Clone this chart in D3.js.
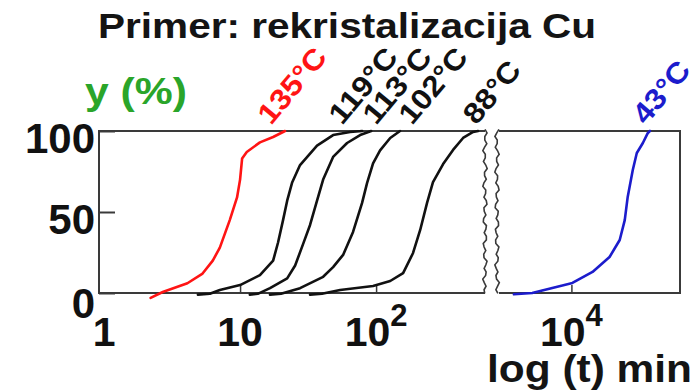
<!DOCTYPE html>
<html>
<head>
<meta charset="utf-8">
<script src="https://cdn.jsdelivr.net/npm/d3@7"></script>
<style>
  html, body { margin: 0; padding: 0; background: #fff; }
  svg { display: block; }
  text { font-family: "Liberation Sans", Arial, Helvetica, sans-serif; font-weight: bold; }
</style>
</head>
<body>
<script>
// Recrystallisation of Cu: recrystallised fraction y (%) versus annealing time (min)
const titleText = "Primer: rekristalizacija Cu";
const yTitle = "y (%)";
const xTitle = "log (t) min";

const temps = ["135°C", "119°C", "113°C", "102°C", "88°C", "43°C"];
const colors = ["#ff1414", "#111111", "#111111", "#111111", "#111111", "#1c1ccc"];

// time (min) and fraction (%) for each annealing temperature
const t135 = [2.2, 2.7, 4.1, 5.3, 6.3, 7.1, 8.4, 9.5, 10.0, 10.35, 11.2, 14.0, 17.5, 21.4];
const y135 = [-3, 0.6, 6, 12, 20, 28, 45, 59, 70, 83, 87, 93, 96.3, 100];

const t119 = [4.9, 6.0, 7.1, 10, 14, 17.5, 19, 20.7, 22.2, 24.1, 27.6, 36.8, 48.3, 64.4, 79];
const y119 = [-1, -0.5, 1.9, 4.9, 11, 20, 31, 45, 57, 68, 79, 91, 97.5, 99.4, 100];

const t113 = [11.8, 13.5, 16.6, 22.2, 25.4, 29.0, 32.7, 36.8, 40.8, 48.3, 61.2, 76.3, 92];
const y113 = [-1, -0.5, 3, 9, 17, 30, 42, 57, 70, 84, 92.6, 97.5, 100];

const t102 = [16.6, 20, 27.6, 40.8, 48.3, 57.2, 67.7, 78.9, 85.9, 95, 107, 127, 143, 150];
const y102 = [-1, -0.5, 3, 10, 16, 23.5, 37.7, 55.6, 68, 80, 88, 95.7, 98.8, 100];

const t88 = [32.7, 40, 54.4, 95, 127, 158, 187, 211, 237, 262, 311, 368, 436, 517, 562];
const y88 = [-1, -0.5, 1.9, 4.3, 7.4, 12.3, 24.7, 38.9, 55.6, 68.5, 79.6, 88.3, 95.7, 99.4, 100];

const t43 = [3800, 5170, 7250, 10170, 14270, 19000, 22550, 24550, 25800, 28100, 30070, 33300, 36230, 37500];
const y43 = [-0.8, 0, 3.1, 6.2, 13, 22.2, 32.7, 45, 59.3, 75.9, 86.4, 92.6, 98.8, 100];

// time (min) at which each temperature label starts, just above 100 %
const labelTimes = [14.5, 48.3, 85.9, 158, 467, 30070];

const seriesTimes = [t135, t119, t113, t102, t88, t43];
const seriesVals = [y135, y119, y113, y102, y88, y43];

const yTicks = [0, 50, 100];
const xTicksLeft = [10, 100];
const xTicksRight = [10000];
const xLabelVals = [1, 10, 100, 10000];
const xLabelBase = ["1", "10", "10", "10"];
const xLabelExp = ["", "", "2", "4"];

const W = 698, H = 392;
const svg = d3.select("body").append("svg").attr("width", W).attr("height", H);

// two log panels separated by an axis break
const xL = d3.scaleLog().domain([0.918, 632]).range([99, 485]);
const xR = d3.scaleLog().domain([2955, 62230]).range([499, 680]);
const y = d3.scaleLinear().domain([0, 100]).range([293, 131]);
const xFor = t => (t < 1500 ? xL(t) : xR(t));

const frameColor = "#3a3a3a";

// title and axis titles
svg.append("text").attr("x", 98).attr("y", 38)
  .attr("font-size", 35).attr("fill", "#141414")
  .attr("textLength", 498).attr("lengthAdjust", "spacingAndGlyphs")
  .text(titleText);

svg.append("text").attr("x", 85).attr("y", 104)
  .attr("font-size", 36).attr("fill", "#2aa52a")
  .attr("textLength", 102).attr("lengthAdjust", "spacingAndGlyphs")
  .text(yTitle);

svg.append("text").attr("x", 487).attr("y", 382)
  .attr("font-size", 38).attr("fill", "#141414")
  .attr("textLength", 205).attr("lengthAdjust", "spacingAndGlyphs")
  .text(xTitle);

// panel frames
const [l0, l1] = xL.range();
const [r0, r1] = xR.range();
const frame = svg.append("g").attr("stroke", frameColor).attr("stroke-width", 2).attr("fill", "none");
frame.append("path").attr("d", `M${l1},${y(100)}H${l0}V${y(0)}H${l1}`);
frame.append("path").attr("d", `M${r0},${y(100)}H${r1}V${y(0)}H${r0}`);

// wavy break marks
function wavyPath(x0, phase) {
  const pts = [];
  for (let v = 101; v >= -1.5; v -= 2.2) {
    const k = (101 - v) / 2.2;
    pts.push([x0 + 1.6 * Math.sin(k * 1.9 + phase) + 0.8 * Math.sin(k * 0.7 + phase * 2), y(v)]);
  }
  return d3.line()(pts);
}
svg.append("path").attr("d", wavyPath(l1, 0)).attr("fill", "none")
  .attr("stroke", frameColor).attr("stroke-width", 1.6);
svg.append("path").attr("d", wavyPath(r0 - 2, 1.3)).attr("fill", "none")
  .attr("stroke", frameColor).attr("stroke-width", 1.6);

// y axis: inward ticks and labels
const yAxis = svg.append("g").attr("transform", `translate(${l0},0)`)
  .call(d3.axisLeft(y).tickValues(yTicks).tickSize(-16).tickFormat(d3.format("d")));
yAxis.select(".domain").remove();
yAxis.selectAll(".tick line").attr("stroke", frameColor).attr("stroke-width", 2);
yAxis.selectAll(".tick text")
  .attr("x", -4).attr("dy", null)
  .attr("y", d => (d === 0 ? 24 : 21))
  .attr("font-size", 42).attr("fill", "#111")
  .attr("font-family", null);
yAxis.attr("font-family", null).attr("font-size", null);

// x axis ticks, inward
[[xL, xTicksLeft], [xR, xTicksRight]].forEach(([sc, tv]) => {
  const g = svg.append("g").attr("transform", `translate(0,${y(0)})`)
    .call(d3.axisBottom(sc).tickValues(tv).tickSize(-8).tickFormat(""));
  g.select(".domain").remove();
  g.selectAll(".tick line").attr("stroke", frameColor).attr("stroke-width", 1.5);
});

// x tick labels with superscript exponents
xLabelVals.forEach((v, i) => {
  const t = svg.append("text").attr("x", xFor(v)).attr("y", 346)
    .attr("text-anchor", "middle").attr("font-size", 41).attr("fill", "#111");
  t.append("tspan").text(xLabelBase[i]);
  if (xLabelExp[i]) {
    t.append("tspan").attr("dy", -20).attr("font-size", 31).text(xLabelExp[i]);
  }
});

// curves
const line = d3.line().x(d => xFor(d.t)).y(d => y(d.v));
seriesTimes.forEach((ts, i) => {
  const pts = ts.map((t, j) => ({ t, v: seriesVals[i][j] }));
  svg.append("path").datum(pts).attr("d", line)
    .attr("fill", "none").attr("stroke", colors[i]).attr("stroke-width", 2.6)
    .attr("stroke-linejoin", "round").attr("stroke-linecap", "round");
});

// rotated temperature labels
temps.forEach((lab, i) => {
  const x0 = xFor(labelTimes[i]) + 9;
  const y0 = y(100) - 5;
  svg.append("text")
    .attr("transform", `translate(${x0},${y0}) rotate(-50)`)
    .attr("font-size", 29).attr("fill", colors[i])
    .attr("textLength", lab.length > 4 ? 89 : 72).attr("lengthAdjust", "spacingAndGlyphs")
    .text(lab);
});
</script>
</body>
</html>
